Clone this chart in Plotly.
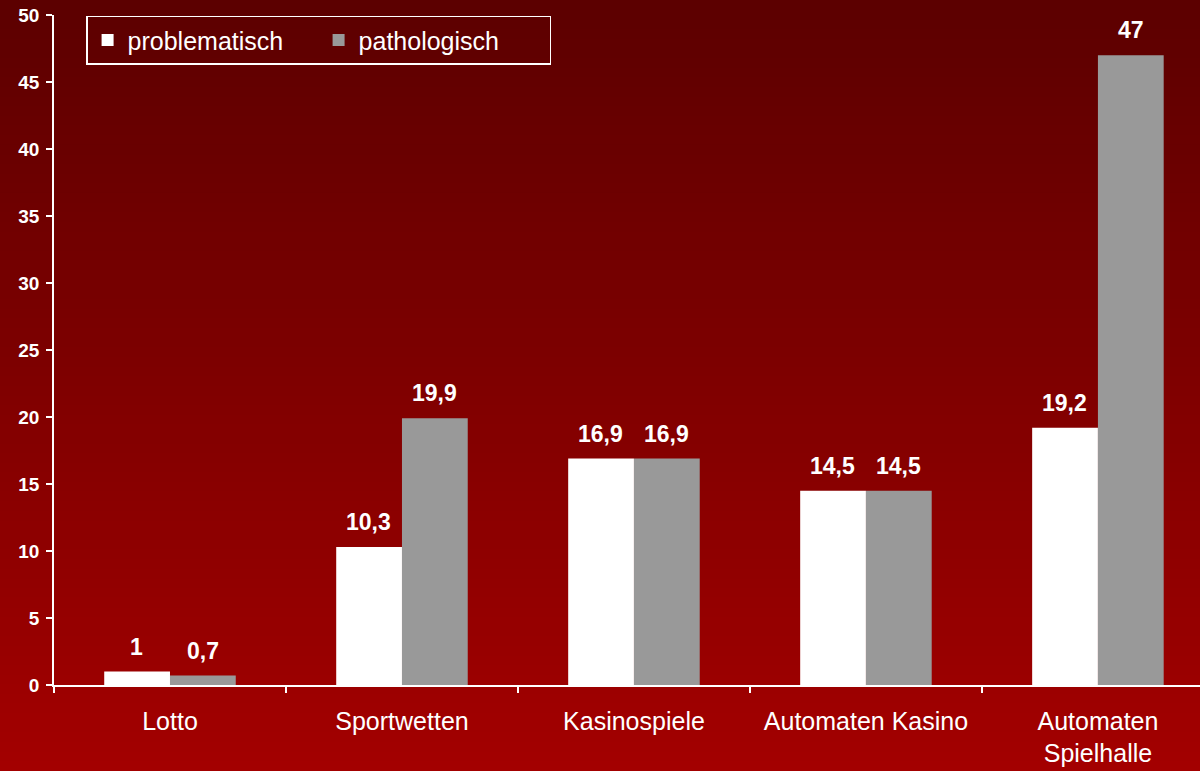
import plotly.graph_objects as go

categories = ["Lotto", "Sportwetten", "Kasinospiele", "Automaten Kasino", "Automaten<br>Spielhalle"]
problematisch = [1, 10.3, 16.9, 14.5, 19.2]
pathologisch = [0.7, 19.9, 16.9, 14.5, 47]
series_names = ["problematisch", "pathologisch"]
y_ticks = [0, 5, 10, 15, 20, 25, 30, 35, 40, 45, 50]

FONT = "Arial, Liberation Sans, sans-serif"
colors = ["#ffffff", "#999999"]

fig = go.Figure()
for name, vals, col in zip(series_names, [problematisch, pathologisch], colors):
    fig.add_trace(go.Bar(name=name, x=categories, y=vals, marker=dict(color=col, line=dict(width=0))))


def fmt(v):
    return ("%g" % v).replace(".", ",")


annotations = []
for vals, shift in [(problematisch, -33), (pathologisch, 33)]:
    for c, v in zip(categories, vals):
        annotations.append(dict(x=c, y=v, xref="x", yref="y", text="<b>%s</b>" % fmt(v),
                                showarrow=False, xshift=shift, yanchor="bottom", yshift=10,
                                font=dict(family=FONT, size=23, color="white")))

# gradient background strips
shapes = []
top_c = 92
bot_c = 163
n = 80
ymin, ymax = -86 / 670, 1 + 15 / 670
for i in range(n):
    t = i / (n - 1)
    r = int(round(bot_c + (top_c - bot_c) * t))
    y0 = ymin + (ymax - ymin) * i / n
    y1 = ymin + (ymax - ymin) * (i + 1) / n + 0.002
    shapes.append(dict(type="rect", xref="paper", yref="paper", x0=-0.1, x1=1.1, y0=y0, y1=y1,
                       fillcolor="rgb(%d,0,0)" % r, line=dict(width=0), layer="below"))

fig.update_layout(
    width=1200, height=771,
    margin=dict(l=54, r=0, t=15, b=86),
    paper_bgcolor="rgb(120,0,0)",
    plot_bgcolor="rgba(0,0,0,0)",
    barmode="group", bargap=0.433, bargroupgap=0,
    separators=",.",
    font=dict(family=FONT, color="white"),
    shapes=shapes,
    annotations=annotations,
    showlegend=True,
    legend=dict(orientation="h", x=0.028, y=0.999, xanchor="left", yanchor="top",
                bgcolor="rgba(0,0,0,0)", bordercolor="white", borderwidth=1.5,
                font=dict(family=FONT, size=25, color="white"), entrywidth=186, itemwidth=30,
                tracegroupgap=0),
    xaxis=dict(range=[-0.5, 4.44], showgrid=False, showline=True, linecolor="white", linewidth=1.5,
               ticks="outside", tickson="boundaries", ticklen=6, tickcolor="white", tickwidth=1.5,
               tickfont=dict(family=FONT, size=25, color="white"), ticklabelstandoff=13, zeroline=False),
    yaxis=dict(range=[0, 50], tickvals=y_ticks, showgrid=False, showline=True, linecolor="white",
               linewidth=1.5, ticks="outside", ticklen=6, tickcolor="white", tickwidth=1.5,
               tickfont=dict(family=FONT, size=19, color="white", weight="bold"), ticklabelstandoff=3,
               zeroline=False),
)

fig.write_html("out.html", config={"displayModeBar": False},
               post_script="document.body.style.margin='0px';document.body.style.background='rgb(163,0,0)';")
